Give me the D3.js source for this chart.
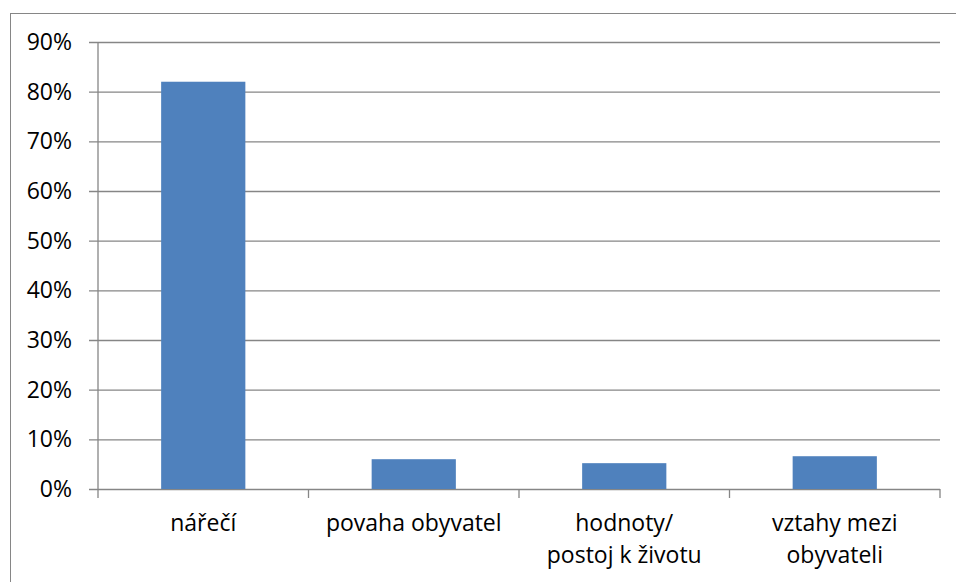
<!DOCTYPE html>
<html>
<head>
<meta charset="utf-8">
<script src="https://cdn.jsdelivr.net/npm/d3@7"></script>
<style>
  html, body { margin: 0; padding: 0; background: #fff; }
  svg { display: block; }
</style>
</head>
<body>
<svg id="chart" width="956" height="582"></svg>
<script>
const categories = [["nářečí"], ["povaha obyvatel"], ["hodnoty/", "postoj k životu"], ["vztahy mezi", "obyvateli"]];
const values = [0.82, 0.06, 0.052, 0.066];
const yTicks = [0, 0.1, 0.2, 0.3, 0.4, 0.5, 0.6, 0.7, 0.8, 0.9];

const W = 956, H = 582;
const plotL = 98, plotR = 940, plotT = 42, plotB = 489;
const FONT = 'Open Sans, sans-serif';
const FS = 23;
const GRID = '#868686';

const svg = d3.select('#chart');

// outer chart border (runs off the right and bottom edges)
svg.append('rect')
  .attr('x', 10.5).attr('y', 13.5)
  .attr('width', W).attr('height', H)
  .attr('fill', 'none').attr('stroke', GRID).attr('stroke-width', 1);

const x = d3.scaleBand()
  .domain(d3.range(categories.length))
  .range([plotL, plotR])
  .paddingInner(0.6)
  .paddingOuter(0.3);

const y = d3.scaleLinear().domain([0, 0.9]).range([plotB, plotT]);

// gridlines + y axis
svg.append('g')
  .attr('transform', `translate(${plotL},0)`)
  .call(d3.axisLeft(y).tickValues(yTicks).tickFormat(d3.format('.0%')).tickSize(-(plotR - plotL)).tickPadding(26))
  .call(ax => ax.select('.domain').remove())
  .call(ax => ax.selectAll('line').attr('stroke', GRID).attr('stroke-width', 1.3).attr('x1', -9))
  .call(ax => ax.selectAll('text').attr('fill', '#000').attr('font-size', FS).attr('font-family', FONT));

svg.append('line')
  .attr('x1', plotL).attr('x2', plotL)
  .attr('y1', plotT).attr('y2', plotB + 9)
  .attr('stroke', GRID).attr('stroke-width', 1.3);

// category boundary ticks
const step = x.step();
svg.append('g')
  .selectAll('line')
  .data(d3.range(1, categories.length + 1))
  .join('line')
  .attr('x1', i => plotL + i * step).attr('x2', i => plotL + i * step)
  .attr('y1', plotB).attr('y2', plotB + 9)
  .attr('stroke', GRID).attr('stroke-width', 1.3);

// bars
svg.append('g')
  .selectAll('rect')
  .data(values)
  .join('rect')
  .attr('x', (d, i) => x(i))
  .attr('width', x.bandwidth())
  .attr('y', d => y(d))
  .attr('height', d => plotB - y(d))
  .attr('fill', '#4F81BD');

// category labels
const lbl = svg.append('g')
  .selectAll('text')
  .data(categories)
  .join('text')
  .attr('text-anchor', 'middle')
  .attr('font-size', FS)
  .attr('font-family', FONT)
  .attr('fill', '#000');

lbl.selectAll('tspan')
  .data((d, i) => d.map(t => ({ t, i })))
  .join('tspan')
  .attr('x', d => x(d.i) + x.bandwidth() / 2)
  .attr('y', (d, j) => 531 + j * 32)
  .text(d => d.t);
</script>
</body>
</html>
